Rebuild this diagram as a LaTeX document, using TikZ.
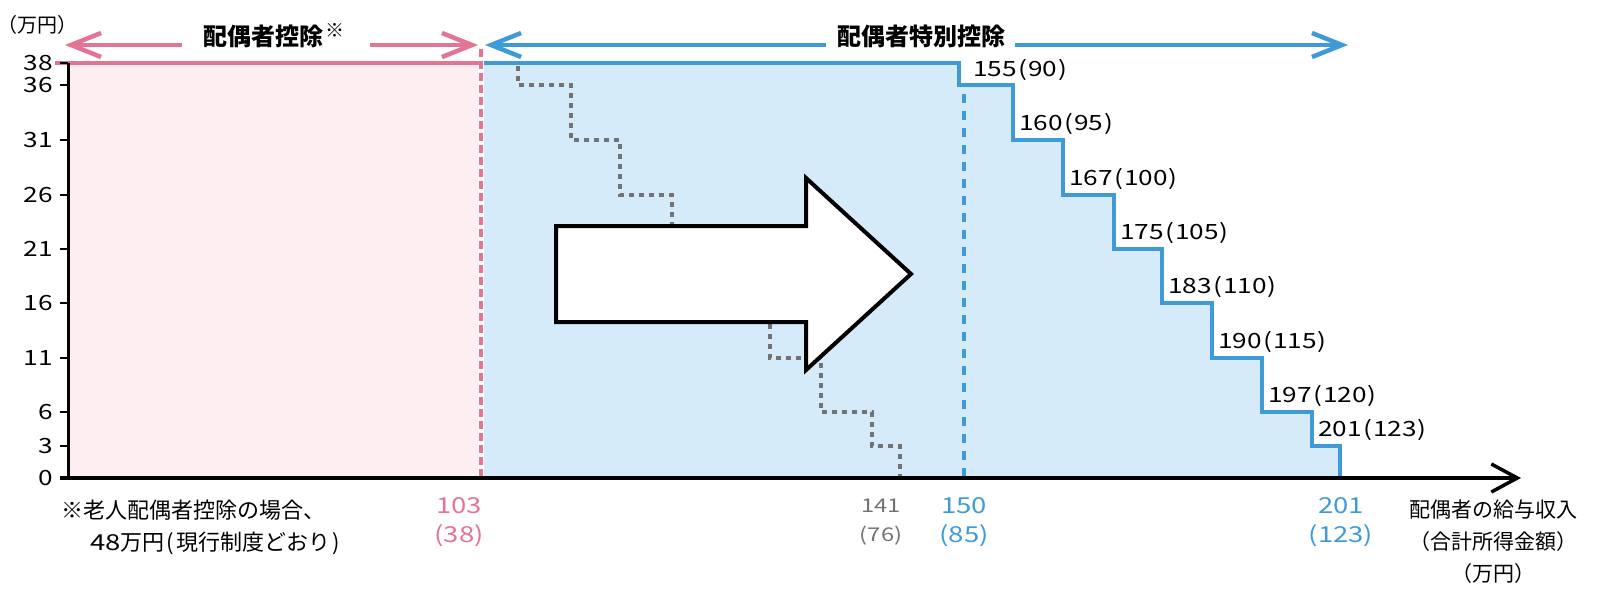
\documentclass[tikz,border=0pt]{standalone}
\usepackage{fontspec}
\setmainfont{Noto Sans CJK JP}
\newfontfamily\numf[FakeStretch=1.25]{Noto Sans CJK JP}
\usetikzlibrary{arrows.meta}
\definecolor{pk}{RGB}{226,116,148}
\definecolor{pkfill}{RGB}{252,238,241}
\definecolor{bl}{RGB}{62,155,215}
\definecolor{blfill}{RGB}{213,235,249}
\definecolor{gr}{RGB}{115,115,115}
\newcommand{\lp}{\kern1.5pt(\kern1pt}
\newcommand{\rp}{\kern1pt)}
\begin{document}
\begin{tikzpicture}[x=1pt,y=-1pt,
  tickmark/.style={line width=2.5pt},
  ticklbl/.style={anchor=east, inner sep=0pt, font=\numf\fontsize{21}{21}\selectfont},
  steplbl/.style={anchor=west, inner sep=0pt, font=\numf\fontsize{21}{21}\selectfont},
  axlbl/.style={align=center, inner sep=0pt, font=\numf\fontsize{22}{29}\selectfont},
  titlelbl/.style={inner sep=0pt, font=\bfseries\fontsize{24}{24}\selectfont},
  mybarb/.tip={Straight Barb[length=30pt,width=24pt]},
  dimline/.style={line width=4.5pt},
  stair/.style={bl, line width=4pt, line join=miter},
  ]
\useasboundingbox (0,0) rectangle (1600,607);

% filled areas
\fill[pkfill] (68,63) rectangle (478,478);
\fill[blfill] (484,63) -| (959,85) -| (1013,140) -| (1063,195) -| (1114,249) -| (1162,303) -| (1212,358) -| (1262,412) -| (1312,446) -| (1340,478) -- (484,478) -- cycle;

% grey dotted staircase (old)
\draw[gr, line width=3.5pt, dash pattern=on 5pt off 5pt] (518,66) |- (571,85) |- (620,140) |- (672,195) |- (720,249) |- (770,303) |- (821,358) |- (872,412) |- (900,446) -- (900,478);

% dashed verticals
\draw[bl, line width=3.5pt, dash pattern=on 9pt off 8pt] (964,94) -- (964,478);
\draw[pk, line width=3.5pt, dash pattern=on 8pt off 4pt] (481,49) -- (481,478);

% top lines and staircase
\draw[pk, line width=4pt] (55,63) -- (481,63);
\draw[stair] (484,63) -| (959,85) -| (1013,140) -| (1063,195) -| (1114,249) -| (1162,303) -| (1212,358) -| (1262,412) -| (1312,446) -| (1340,478);

% axes
\draw[line width=3pt] (68,63) -- (68,478);
\coordinate (xs) at (60,478);
\coordinate (xe) at (1521,478);
\draw[line width=3.5pt, -{Straight Barb[length=26pt,width=28pt]}] (xs) -- (xe);
\foreach \v/\y in {38/63,36/85,31/140,26/195,21/249,16/303,11/358,6/412,3/446,0/478}{
  \draw[tickmark] (60,\y) -- (68,\y);
  \node[ticklbl] (t\v) at (53,\y) {\v};
}
\node[inner sep=0pt, font=\fontsize{20}{20}\selectfont] (unit) at (38,25) {（万円）};

% dimension arrows
\node[titlelbl] (ptitle) at (263,36) {配偶者控除};
\node[inner sep=0pt, font=\fontsize{19}{19}\selectfont] (pstar) at (335,30) {※};
\coordinate (pL) at (65,45);
\coordinate (pGL) at (182,45);
\coordinate (pGR) at (370,45);
\coordinate (pR) at (478,45);
\draw[pk, dimline, mybarb-] (pL) -- (pGL);
\draw[pk, dimline, -mybarb] (pGR) -- (pR);

\node[titlelbl] (btitle) at (921,36) {配偶者特別控除};
\coordinate (bL) at (485,45);
\coordinate (bGL) at (826,45);
\coordinate (bGR) at (1015,45);
\coordinate (bR) at (1348,45);
\draw[bl, dimline, mybarb-] (bL) -- (bGL);
\draw[bl, dimline, -mybarb] (bGR) -- (bR);

% big arrow
\draw[line width=4pt, fill=white, miter limit=10] (556,226) -- (806,226) -- (806,178) -- (911,274) -- (806,370) -- (806,322) -- (556,322) -- cycle;

% step labels
\node[steplbl] (s155) at (973,70) {155\lp 90\rp};
\node[steplbl] (s160) at (1019,124) {160\lp 95\rp};
\node[steplbl] (s167) at (1069,179) {167\lp 100\rp};
\node[steplbl] (s175) at (1120,233) {175\lp 105\rp};
\node[steplbl] (s183) at (1168,287) {183\lp 110\rp};
\node[steplbl] (s190) at (1218,342) {190\lp 115\rp};
\node[steplbl] (s197) at (1268,396) {197\lp 120\rp};
\node[steplbl] (s201) at (1318,430) {201\lp 123\rp};

% x axis labels
\node[axlbl, pk] (x103) at (459,522) {103\\(38)};
\node[axlbl, gr, font=\numf\fontsize{19}{29}\selectfont] (x141) at (881,522) {141\\(76)};
\node[axlbl, bl] (x150) at (964,522) {150\\(85)};
\node[axlbl, bl] (x201) at (1341,522) {201\\(123)};
\node[align=center, inner sep=0pt, font=\fontsize{21}{32}\selectfont] (xname) at (1493,542) {配偶者の給与収入\\（合計所得金額）\\（万円）};

% footnote
\node[anchor=west, inner sep=0pt, font=\fontsize{22}{22}\selectfont] (n1) at (61,510) {※老人配偶者控除の場合、};
\node[anchor=west, inner sep=0pt, font=\fontsize{22}{22}\selectfont] (n2) at (90,543) {{\numf 48}万円\kern2pt(\kern2pt現行制度どおり\kern2pt)};
\end{tikzpicture}
\end{document}
